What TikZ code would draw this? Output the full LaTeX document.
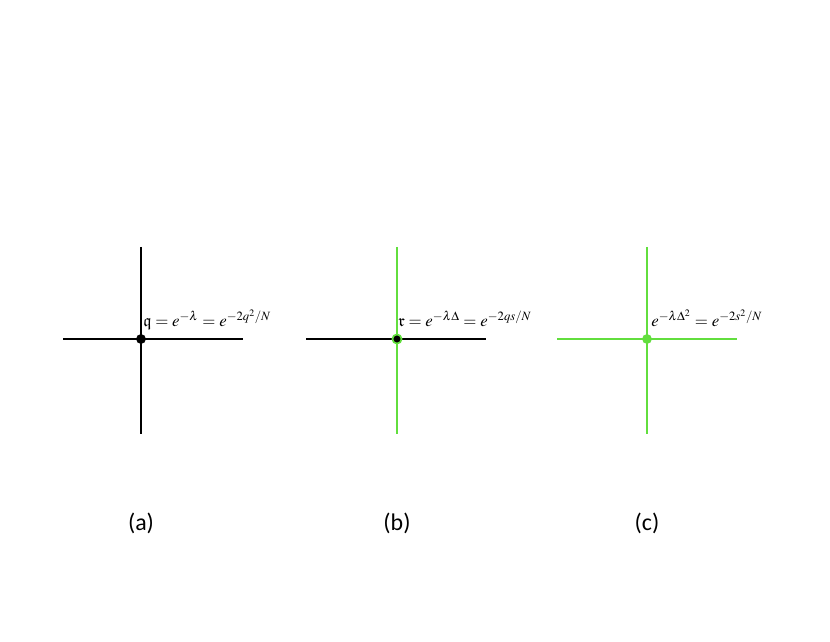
\documentclass[tikz,border=0pt]{standalone}
\usepackage{amssymb}
\usepackage{mathptmx}
\usepackage{fontspec}
\setmainfont{Liberation Serif}
\newfontfamily\capfont{Carlito}
\definecolor{verde}{RGB}{98,222,62}
\begin{document}
\begin{tikzpicture}[
			x=0.025cm, y=-0.025cm,
			asse/.style={line width=1.5pt, line cap=butt, black},
			assev/.style={line width=1.5pt, line cap=butt, verde},
			punto/.style={circle, fill=black, draw=black,
				inner sep=0pt, minimum size=6.5pt},
			puntov/.style={circle, fill=verde, draw=verde,
				inner sep=0pt, minimum size=6.5pt},
			puntom/.style={circle, fill=black, draw=verde,
				inner sep=0pt, minimum size=6.5pt, line width=1.2pt},
			etich/.style={anchor=base west, inner sep=0pt,
				font=\fontsize{12}{14}\selectfont},
			didas/.style={font=\capfont\fontsize{17}{20}\selectfont},
			]
			\useasboundingbox (0,0) rectangle (830,642);
			
			% (a)
			\coordinate (Na) at (141,247); \coordinate (Sa) at (141,434);
			\coordinate (Wa) at (63,339);  \coordinate (Ea) at (243,339);
			\draw[asse](Na)--(Sa);
			\draw[asse](Wa)--(Ea);
			\node[punto] (Ca) at (141,339){};
			\node[etich] (La) at (143,327)
			{$\mathfrak{q}=e^{-\lambda}=e^{-2q^2/N}$};
			\node[didas] (Da) at (141,523){(a)};
			
			% (b)
			\coordinate (Nb) at (397,247); \coordinate (Sb) at (397,434);
			\coordinate (Wb) at (306,339); \coordinate (Eb) at (486,339);
			\draw[assev](Nb)--(Sb);
			\draw[asse](Wb)--(Eb);
			\node[puntom] (Cb) at (397,339){};
			\node[etich] (Lb) at (398,327)
			{$\mathfrak{r}=e^{-\lambda\Delta}=e^{-2qs/N}$};
			\node[didas] (Db) at (397,523){(b)};
			
			% (c)
			\coordinate (Nc) at (647,247); \coordinate (Sc) at (647,434);
			\coordinate (Wc) at (557,339); \coordinate (Ec) at (737,339);
			\draw[assev](Nc)--(Sc);
			\draw[assev](Wc)--(Ec);
			\node[puntov] (Cc) at (647,339){};
			\node[etich] (Lc) at (651,327)
			{$e^{-\lambda\Delta^2}=e^{-2s^2/N}$};
			\node[didas] (Dc) at (647,523){(c)};
		\end{tikzpicture}
\end{document}
